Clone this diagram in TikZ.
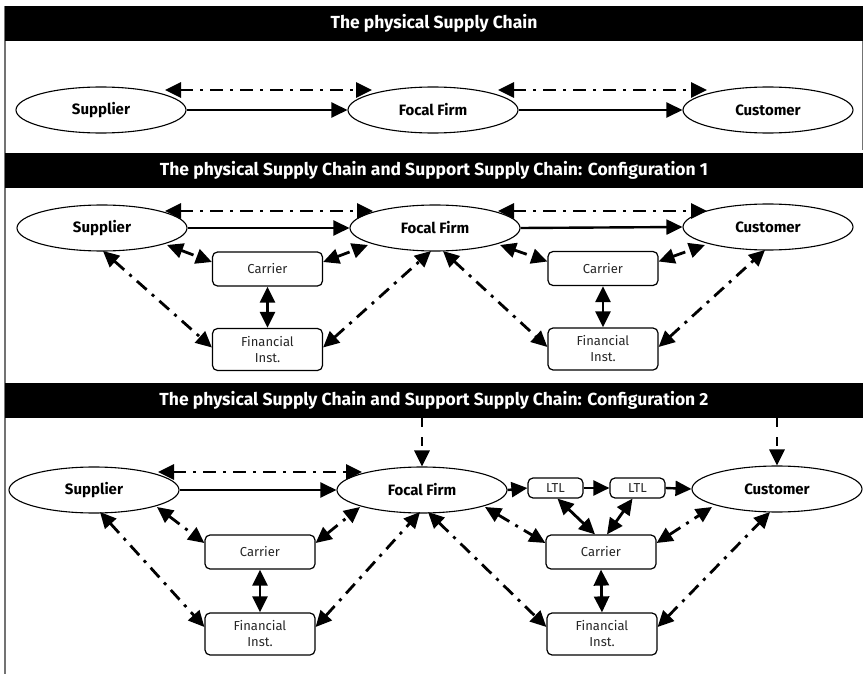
\documentclass[tikz,border=0pt]{standalone}
\usepackage{fontspec}
\setmainfont{Fira Sans}
\usetikzlibrary{arrows.meta,shapes.geometric}

\begin{document}
\begin{tikzpicture}[x=1pt,y=-1pt,
  >={Triangle[length=16pt,width=15pt]},
  party/.style={ellipse, draw, line width=1.1pt, minimum width=170pt, minimum height=46pt,
    inner sep=0pt, font=\bfseries\fontsize{15}{17}\selectfont},
  agent/.style={rectangle, rounded corners=5pt, draw, line width=1.2pt, minimum width=110pt,
    minimum height=34pt, inner sep=1pt, align=center, text=black!85, font=\fontsize{13}{16}\selectfont},
  finbox/.style={agent, minimum height=42pt},
  ltlbox/.style={agent, minimum width=55pt, minimum height=20pt, font=\fontsize{13}{14}\selectfont},
  header/.style={fill=black, text=white, minimum width=858pt, minimum height=35pt,
    inner sep=0pt, font=\bfseries\fontsize{17.5}{20}\selectfont},
  goods/.style={line width=2.4pt, ->},
  info/.style={line width=2.8pt, dash pattern=on 13pt off 7pt on 3pt off 7pt, <->},
  link/.style={line width=2.8pt, <->},
  order/.style={line width=2.8pt, dash pattern=on 9pt off 10pt, ->},
  frame/.style={draw=black!55, line width=1.2pt}
]
\useasboundingbox (0,0) rectangle (863,674);

% frame on the left side of all three panels
\draw[frame] (5,6) -- (5,674);
\draw[frame] (862.4,41) -- (862.4,150);

% ---------- panel 1: the physical supply chain ----------
\node[header] (h1) at (434,23.5) {The physical Supply Chain};
\node[party] (s1) at (101,110) {Supplier};
\node[party] (f1) at (433,110) {Focal Firm};
\node[party] (c1) at (768,110) {Customer};
\draw[goods] (s1.east) -- (f1.west);
\draw[goods] (f1.east) -- (c1.west);
\draw[info] ([shift={(64,-20)}]s1.center) -- ([shift={(-61,-20)}]f1.center);
\draw[info] ([shift={(65,-20)}]f1.center) -- ([shift={(-61,-20)}]c1.center);

% ---------- panel 2: configuration 1 ----------
\node[header] (h2) at (434,170.5) {The physical Supply Chain and Support Supply Chain: Configuration 1};
\node[party] (s2) at (102,228) {Supplier};
\node[party] (f2) at (435,228) {Focal Firm};
\node[party] (c2) at (768,227) {Customer};
\node[agent]  (ca2a) at (267.5,269) {Carrier};
\node[finbox] (fi2a) at (267.5,349.5) {Financial\\Inst.};
\node[agent]  (ca2b) at (603,268.5) {Carrier};
\node[finbox] (fi2b) at (603,349) {Financial\\Inst.};

\draw[goods] (s2.east) -- (f2.west);
\draw[goods] (f2.east) -- (c2.west);
\draw[info] ([shift={(63,-17)}]s2.center) -- ([shift={(-62,-17)}]f2.center);
\draw[info] ([shift={(63,-17)}]f2.center) -- ([shift={(-61,-16)}]c2.center);

\draw[info] ([shift={(65,17)}]s2.center) -- ([shift={(0,-7)}]ca2a.west);
\draw[info] ([shift={(0,-7)}]ca2a.east) -- ([shift={(-67,17)}]f2.center);
\draw[info] ([shift={(1,23)}]s2.center) -- ([shift={(0,-2)}]fi2a.west);
\draw[info] ([shift={(0,-2)}]fi2a.east) -- ([shift={(-4,23)}]f2.center);
\draw[link] (ca2a.south) -- (fi2a.north);

\draw[info] ([shift={(65,17)}]f2.center) -- ([shift={(0,-7)}]ca2b.west);
\draw[info] ([shift={(0,-7)}]ca2b.east) -- ([shift={(-63,18)}]c2.center);
\draw[info] ([shift={(8,23)}]f2.center) -- ([shift={(0,-2)}]fi2b.west);
\draw[info] ([shift={(0,-2)}]fi2b.east) -- ([shift={(-3,23)}]c2.center);
\draw[link] (ca2b.south) -- (fi2b.north);

% ---------- panel 3: configuration 2 ----------
\node[header] (h3) at (434,400.5) {The physical Supply Chain and Support Supply Chain: Configuration 2};
\node[party] (s3) at (94,490) {Supplier};
\node[party] (f3) at (422,490) {Focal Firm};
\node[party] (c3) at (777,489) {Customer};
\node[ltlbox] (l3a) at (555.5,488) {LTL};
\node[ltlbox] (l3b) at (637.5,488) {LTL};
\node[agent]  (ca3a) at (260,552) {Carrier};
\node[finbox] (fi3a) at (260,634) {Financial\\Inst.};
\node[agent]  (ca3b) at (601,552) {Carrier};
\node[finbox] (fi3b) at (602,634) {Financial\\Inst.};

\draw[order] (f3.north |- h3.south) -- (f3.north);
\draw[order] (c3.north |- h3.south) -- (c3.north);

\draw[goods] (s3.east) -- (f3.west);
\draw[goods] (f3.east) -- (l3a.west);
\draw[goods] (l3a.east) -- (l3b.west);
\draw[goods] (l3b.east) -- (c3.west);
\draw[info] ([shift={(64,-18)}]s3.center) -- ([shift={(-60,-18)}]f3.center);

\draw[info] ([shift={(63,17)}]s3.center) -- ([shift={(0,-9)}]ca3a.west);
\draw[info] ([shift={(0,-9)}]ca3a.east) -- ([shift={(-62,17)}]f3.center);
\draw[info] ([shift={(6,22)}]s3.center) -- ([shift={(0,-7)}]fi3a.west);
\draw[info] ([shift={(0,-7)}]fi3a.east) -- ([shift={(-2,22)}]f3.center);
\draw[link] (ca3a.south) -- (fi3a.north);

\draw[info] ([shift={(63,17)}]f3.center) -- ([shift={(0,-9)}]ca3b.west);
\draw[info] ([shift={(6,22)}]f3.center) -- ([shift={(0,-7)}]fi3b.west);
\draw[link] ([shift={(-6,0)}]ca3b.north) -- ([shift={(2,0)}]l3a.south);
\draw[link] ([shift={(6,0)}]ca3b.north) -- ([shift={(-5,0)}]l3b.south);
\draw[info] ([shift={(0,-9)}]ca3b.east) -- ([shift={(-65,18)}]c3.center);
\draw[info] ([shift={(0,-7)}]fi3b.east) -- ([shift={(-7,23)}]c3.center);
\draw[link] (ca3b.south) -- (fi3b.north);
\end{tikzpicture}
\end{document}
